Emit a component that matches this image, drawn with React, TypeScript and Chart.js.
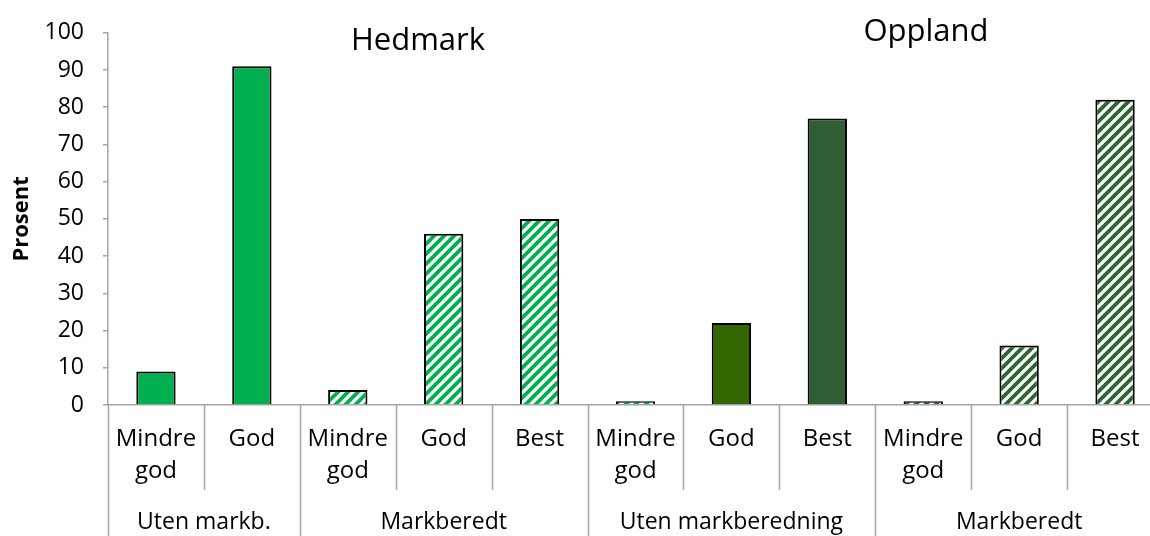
import React, { useEffect, useRef } from "react";
import { Chart, registerables } from "chart.js";

Chart.register(...registerables);

// ---------- data ----------
const categories: string[][] = [
  ["Mindre", "god"], ["God"],
  ["Mindre", "god"], ["God"], ["Best"],
  ["Mindre", "god"], ["God"], ["Best"],
  ["Mindre", "god"], ["God"], ["Best"],
];
const values = [9, 91, 4, 46, 50, 1, 22, 77, 1, 16, 82];
const groupLabels = ["Uten markb.", "Markberedt", "Uten markberedning", "Markberedt"];
const groupSizes = [2, 3, 3, 3];
const regionLabels = ["Hedmark", "Oppland"];
const yAxisTitle = "Prosent";
const yMin = 0;
const yMax = 100;
const yStep = 10;

// ---------- styles ----------
const barStyles: { kind: "solid" | "hatch"; color: string }[] = [
  { kind: "solid", color: "#00B050" },
  { kind: "solid", color: "#00B050" },
  { kind: "hatch", color: "#00B050" },
  { kind: "hatch", color: "#00B050" },
  { kind: "hatch", color: "#00B050" },
  { kind: "hatch", color: "#00B050" },
  { kind: "solid", color: "#336600" },
  { kind: "solid", color: "#2F5E34" },
  { kind: "hatch", color: "#2E6633" },
  { kind: "hatch", color: "#2E6633" },
  { kind: "hatch", color: "#2E6633" },
];

const FONT = "'Open Sans', 'Noto Sans', sans-serif";
const AXIS_COLOR = "#a6a6a6";

function hatch(color: string): CanvasPattern | string {
  const size = 10;
  const c = document.createElement("canvas");
  c.width = size;
  c.height = size;
  const ctx = c.getContext("2d");
  if (!ctx) return color;
  ctx.fillStyle = "#ffffff";
  ctx.fillRect(0, 0, size, size);
  ctx.strokeStyle = color;
  ctx.lineWidth = 3.8;
  ctx.beginPath();
  for (const o of [-size, 0, size]) {
    ctx.moveTo(o - 2, size + 2);
    ctx.lineTo(o + size + 2, -2);
  }
  ctx.stroke();
  return ctx.createPattern(c, "repeat") || color;
}

const multiLevelPlugin = {
  id: "multiLevel",
  afterDraw(chart: any) {
    const ctx: CanvasRenderingContext2D = chart.ctx;
    const xs = chart.scales.x;
    const area = chart.chartArea;
    const n = categories.length;
    const slot = (xs.right - xs.left) / n;
    const groupStarts = new Set<number>();
    let acc = 0;
    groupStarts.add(0);
    for (const s of groupSizes) {
      acc += s;
      groupStarts.add(acc);
    }
    ctx.save();
    ctx.strokeStyle = AXIS_COLOR;
    ctx.lineWidth = 1.5;
    // separators
    for (let i = 0; i <= n; i++) {
      const px =
        i < n ? xs.getPixelForValue(i) - slot / 2 : xs.getPixelForValue(n - 1) + slot / 2;
      const yEnd = groupStarts.has(i) ? chart.height : area.bottom + 85;
      ctx.beginPath();
      ctx.moveTo(Math.round(px) + 0.5, area.bottom);
      ctx.lineTo(Math.round(px) + 0.5, yEnd);
      ctx.stroke();
    }
    // category labels
    ctx.fillStyle = "#000";
    ctx.textAlign = "center";
    ctx.textBaseline = "middle";
    ctx.font = `24px ${FONT}`;
    categories.forEach((lines, i) => {
      const px = xs.getPixelForValue(i);
      lines.forEach((t, j) => {
        ctx.fillText(t, px, area.bottom + 34 + j * 32);
      });
    });
    // group labels
    ctx.font = `23px ${FONT}`;
    let start = 0;
    groupSizes.forEach((s, g) => {
      const l = xs.getPixelForValue(start) - slot / 2;
      const r = xs.getPixelForValue(start + s - 1) + slot / 2;
      ctx.fillText(groupLabels[g], (l + r) / 2, area.bottom + 117);
      start += s;
    });
    // region titles
    ctx.font = `31px ${FONT}`;
    ctx.textBaseline = "alphabetic";
    ctx.fillText(regionLabels[0], 418, 50);
    ctx.fillText(regionLabels[1], 926, 41);
    ctx.restore();
  },
};

export default function App() {
  const ref = useRef<HTMLCanvasElement | null>(null);

  useEffect(() => {
    if (!ref.current) return;
    const fills = barStyles.map((s) => (s.kind === "solid" ? s.color : hatch(s.color)));
    const chart = new Chart(ref.current, {
      type: "bar",
      data: {
        labels: categories.map((c) => c.join(" ")),
        datasets: [
          {
            data: values,
            backgroundColor: fills as any,
            borderColor: "#000000",
            borderWidth: 2,
            categoryPercentage: 1,
            barPercentage: 0.41,
          },
        ],
      },
      options: {
        animation: false,
        responsive: true,
        maintainAspectRatio: false,
        layout: { padding: { top: 28, left: 0, right: 0, bottom: 0 } },
        plugins: {
          legend: { display: false },
          tooltip: { enabled: false },
        },
        scales: {
          x: {
            grid: { display: false },
            ticks: { display: false },
            border: { display: true, color: AXIS_COLOR, width: 1.5 },
            afterFit: (s: any) => {
              s.height = 131;
            },
          },
          y: {
            min: yMin,
            max: yMax,
            ticks: {
              stepSize: yStep,
              color: "#000",
              padding: 19,
              font: { family: FONT, size: 23 },
            },
            grid: {
              display: true,
              drawOnChartArea: false,
              drawTicks: true,
              tickLength: 5,
              color: AXIS_COLOR,
              lineWidth: 1.5,
            },
            border: { display: true, color: AXIS_COLOR, width: 1.5 },
            title: {
              display: true,
              text: yAxisTitle,
              color: "#000",
              font: { family: FONT, size: 22, weight: "bold" },
              padding: { top: 9, bottom: 0 },
            },
            afterFit: (s: any) => {
              s.width = 108;
            },
          },
        },
      },
      plugins: [multiLevelPlugin],
    });
    return () => chart.destroy();
  }, []);

  return (
    <div
      style={{
        position: "absolute",
        left: 0,
        top: 0,
        width: 1150,
        height: 536,
        overflow: "hidden",
        background: "#fff",
      }}
    >
      <div style={{ position: "relative", width: 1163, height: 536 }}>
        <canvas ref={ref} />
      </div>
    </div>
  );
}
